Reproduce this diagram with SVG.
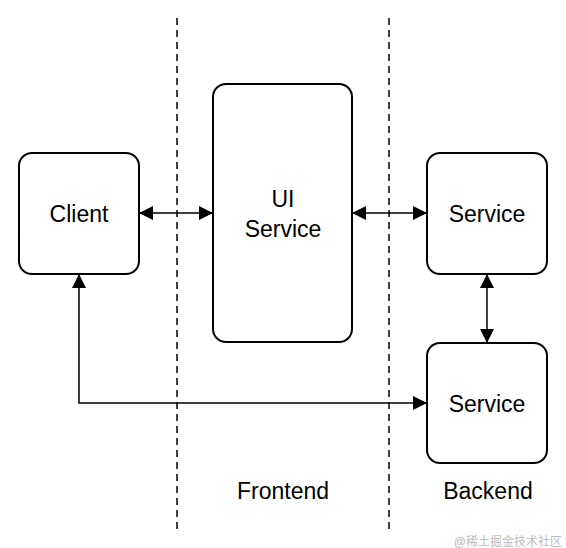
<svg xmlns="http://www.w3.org/2000/svg" width="566" height="548" viewBox="0 0 566 548">
<style>
.box{fill:#fff;stroke:#000;stroke-width:2}
.lbl{font-family:"Liberation Sans",Arial,sans-serif;font-size:23px;fill:#000;text-anchor:middle}
.dash{stroke:#000;stroke-width:1.5;stroke-dasharray:7 5;fill:none}
.conn{stroke:#000;stroke-width:1.5;fill:none}
.wm{font-family:"Liberation Sans","Noto Sans CJK SC",sans-serif;font-size:12px;fill:#bbb;text-anchor:end}
</style>
<defs>
<marker id="ah" viewBox="0 0 14 14" refX="14" refY="7" markerWidth="14" markerHeight="14" markerUnits="userSpaceOnUse" orient="auto-start-reverse">
<path d="M0,0 L14,7 L0,14 Z" fill="#000"/>
</marker>
</defs>
<rect width="566" height="548" fill="#fff"/>
<g id="dividers">
<line class="dash" x1="177" y1="18" x2="177" y2="530"/>
<line class="dash" x1="389" y1="18" x2="389" y2="530"/>
</g>
<g id="connectors">
<line class="conn" x1="139" y1="213" x2="213" y2="213" marker-start="url(#ah)" marker-end="url(#ah)"/>
<line class="conn" x1="352" y1="213" x2="427" y2="213" marker-start="url(#ah)" marker-end="url(#ah)"/>
<line class="conn" x1="487" y1="274" x2="487" y2="343" marker-start="url(#ah)" marker-end="url(#ah)"/>
<polyline class="conn" points="79,274 79,403 427,403" marker-start="url(#ah)" marker-end="url(#ah)"/>
</g>
<g id="client">
<rect class="box" x="19" y="153" width="120" height="121" rx="13"/>
<text class="lbl" x="79" y="222">Client</text>
</g>
<g id="ui-service">
<rect class="box" x="213" y="84" width="139" height="258" rx="13"/>
<text class="lbl" x="283" y="207">UI</text>
<text class="lbl" x="283" y="237">Service</text>
</g>
<g id="service-top">
<rect class="box" x="427" y="153" width="120" height="121" rx="13"/>
<text class="lbl" x="487" y="222">Service</text>
</g>
<g id="service-bottom">
<rect class="box" x="427" y="343" width="120" height="120" rx="13"/>
<text class="lbl" x="487" y="412">Service</text>
</g>
<g id="zone-labels">
<text class="lbl" x="283" y="499">Frontend</text>
<text class="lbl" x="488" y="499">Backend</text>
</g>
<text class="wm" x="562" y="546">@稀土掘金技术社区</text>
</svg>
